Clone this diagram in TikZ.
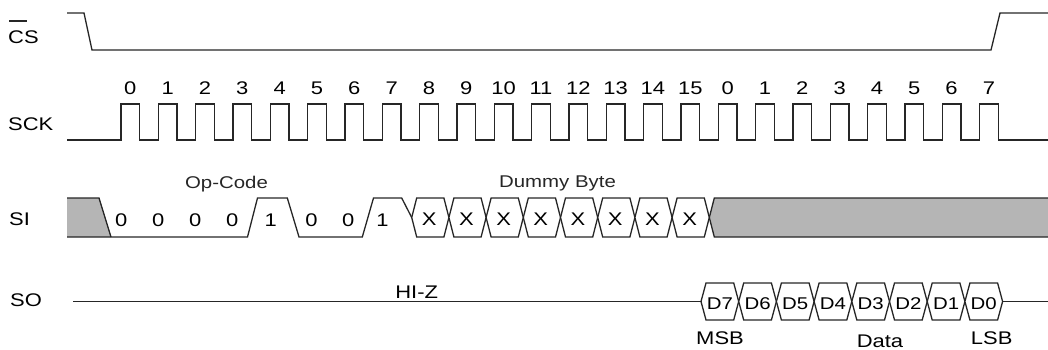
\documentclass[tikz,border=0pt]{standalone}
\usepackage{fontspec}
\setmainfont{Liberation Sans}[FakeStretch=1.2]
\usepackage{tikz}
\usepackage{xcolor}

\begin{document}
\begin{tikzpicture}[
        x=1pt, y=-1pt,
        senal/.style={
            draw=black!85,
            line width=1.3pt,
            line join=miter
        },
        sombra/.style={
            fill=black!29
        },
        rotulo/.style={
            font=\fontsize{18.3}{21}\selectfont,
            text=black,
            anchor=base,
            inner sep=0pt
        },
        titulo/.style={
            font=\fontsize{17}{20}\selectfont,
            text=black!85,
            anchor=base,
            inner sep=0pt
        },
        dato/.style={
            font=\fontsize{17}{20}\selectfont,
            text=black,
            anchor=base,
            inner sep=0pt
        }
    ]

    \useasboundingbox (0,0) rectangle (1048,350);

    % nombres de las senales
    \node[rotulo, anchor=base west] (cs) at (8,44) {CS};
    \draw[senal, line width=1.1pt] (cs.base west) ++(1.3,-23) -- ++(17.4,0);
    \node[rotulo, anchor=base west] (sck) at (8,130) {SCK};
    \node[rotulo, anchor=base west] (si) at (9,225) {SI};
    \node[rotulo, anchor=base west] (so) at (10,306.5) {SO};

    % CS
    \draw[senal] (67,13) -- (84,13) -- (92,50) -- (991,50) -- (1000,13) -- (1048,13);

    % SCK
    \draw[senal] (67,140)
        \foreach \k in {0,...,23}{
            -- ({121+37.33*\k},140) -- ++(0,-36) -- ++(18.67,0) -- ++(0,36)
        } -- (1048,140);

    \foreach \k in {0,...,23}{
        \pgfmathtruncatemacro{\cuenta}{mod(\k,16)}
        \node[rotulo] (num\k) at ({130.33+37.33*\k},94.3) {\cuenta};
    }

    % SI
    \fill[sombra] (67,198) -- (99,198) -- (111,237) -- (67,237) -- cycle;
    \draw[senal] (67,198) -- (99,198) -- (111,237);
    \draw[senal] (67,237) -- (247.5,237) -- (257.5,198) -- (287.3,198)
        -- (299,237) -- (362.3,237) -- (373.5,198) -- (401.7,198)
        -- (411.7,217.5);

    \foreach \x/\b [count=\i] in {121.3/0, 158.3/0, 195.3/0, 232.3/0,
                                  270.8/1, 311.5/0, 348.3/0, 382.5/1}{
        \node[rotulo] (bit\i) at (\x,226) {\b};
    }

    \foreach \j in {0,...,7}{
        \pgfmathsetmacro{\v}{411.7+37.2*\j}
        \draw[senal, fill=white] (\v,217.5) -- ++(5,-19.5) -- ++(27.2,0)
            -- ++(5,19.5) -- ++(-5,19.5) -- ++(-27.2,0) -- cycle;
        \node[rotulo] (x\j) at ({\v+17.5},225) {X};
    }

    \fill[sombra] (709.3,217.5) -- (714.3,198) -- (1048,198) -- (1048,237)
        -- (714.3,237) -- cycle;
    \draw[senal] (1048,198) -- (714.3,198) -- (709.3,217.5) -- (714.3,237)
        -- (1048,237);

    \node[titulo] (codigo) at (226.5,188.3) {Op-Code};
    \node[titulo] (relleno) at (557.5,187.5) {Dummy Byte};

    % SO
    \draw[senal] (73,301.5) -- (701,301.5);
    \draw[senal] (1002.6,301.5) -- (1048,301.5);

    \foreach \d [count=\j from 0] in {7,6,5,4,3,2,1,0}{
        \pgfmathsetmacro{\v}{701+37.7*\j}
        \draw[senal, fill=white] (\v,301.5) -- ++(5,-18.5) -- ++(27.7,0)
            -- ++(5,18.5) -- ++(-5,18.5) -- ++(-27.7,0) -- cycle;
        \node[dato] (d\d) at ({\v+18.85},309.3) {D\d};
    }

    \node[rotulo] (hiz) at (416.7,298) {HI-Z};
    \node[rotulo] (msb) at (720,344.5) {MSB};
    \node[rotulo] (datos) at (880,347) {Data};
    \node[rotulo] (lsb) at (991.7,344.5) {LSB};

\end{tikzpicture}
\end{document}
